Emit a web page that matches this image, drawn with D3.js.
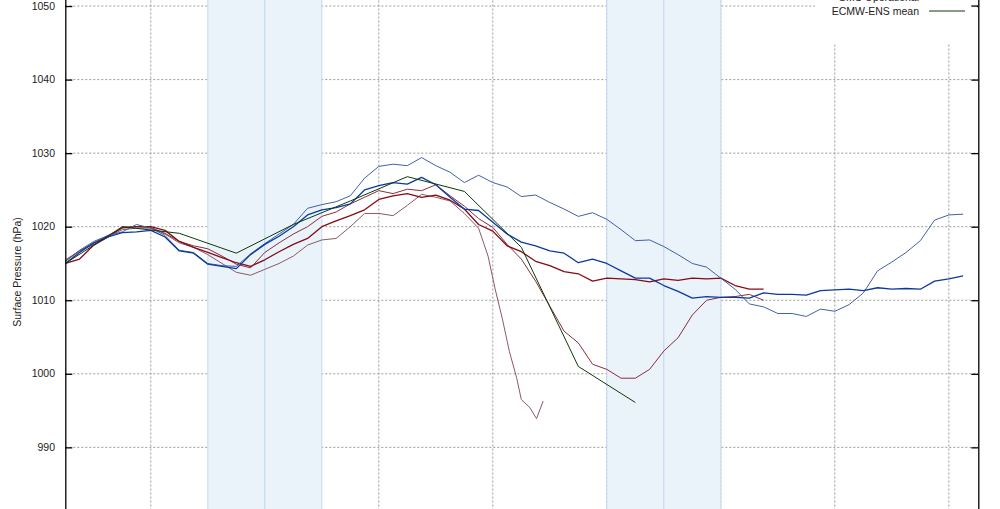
<!DOCTYPE html>
<html>
<head>
<meta charset="utf-8">
<script src="https://cdn.jsdelivr.net/npm/d3@7"></script>
<style>
body { margin: 0; background: #fff; }
text { font-family: "Liberation Sans", Arial, sans-serif; }
</style>
</head>
<body>
<div id="chart-area"></div>
<script>
/*
*    surface pressure forecasts
*/

// [forecast hour, hPa]
var lightBlue = [[0,1015.3],[3,1016.8],[6,1018.0],[9,1018.8],[12,1019.3],[15,1020.3],[18,1019.8],[21,1018.8],[24,1016.8],[27,1016.5],[30,1015.0],[33,1014.7],[36,1014.6],[39,1016.3],[42,1017.7],[45,1019.0],[48,1020.3],[51,1022.5],[54,1023.0],[57,1023.4],[60,1024.2],[63,1026.6],[66,1028.2],[69,1028.5],[72,1028.3],[75,1029.4],[78,1028.3],[81,1027.4],[84,1026.0],[87,1027.0],[90,1026.0],[93,1025.4],[96,1024.1],[99,1024.3],[102,1023.3],[105,1022.4],[108,1021.4],[111,1021.9],[114,1021.0],[117,1019.6],[120,1018.1],[123,1018.2],[126,1017.3],[129,1016.2],[132,1015.0],[135,1014.5],[138,1013.0],[141,1011.5],[144,1009.5],[147,1009.1],[150,1008.2],[153,1008.2],[156,1007.8],[159,1008.8],[162,1008.5],[165,1009.4],[168,1011.0],[171,1014.0],[174,1015.2],[177,1016.5],[180,1018.1],[183,1020.9],[186,1021.6],[189,1021.7]];

var darkBlue = [[0,1015.0],[3,1016.5],[6,1017.8],[9,1018.6],[12,1019.2],[15,1019.3],[18,1019.5],[21,1018.6],[24,1016.7],[27,1016.4],[30,1014.9],[33,1014.6],[36,1014.3],[39,1016.2],[42,1017.6],[45,1018.7],[48,1020.0],[51,1021.6],[54,1022.3],[57,1022.6],[60,1023.1],[63,1025.0],[66,1025.6],[69,1026.0],[72,1025.8],[75,1026.7],[78,1025.7],[81,1024.0],[84,1022.4],[87,1022.2],[90,1020.6],[93,1019.0],[96,1017.9],[99,1017.4],[102,1016.7],[105,1016.4],[108,1015.1],[111,1015.6],[114,1015.0],[117,1014.0],[120,1013.0],[123,1013.0],[126,1012.0],[129,1011.2],[132,1010.3],[135,1010.5],[138,1010.4],[141,1010.4],[144,1010.3],[147,1011.0],[150,1010.8],[153,1010.8],[156,1010.7],[159,1011.3],[162,1011.4],[165,1011.5],[168,1011.3],[171,1011.7],[174,1011.5],[177,1011.6],[180,1011.5],[183,1012.6],[186,1012.9],[189,1013.3]];

var gmsOper = [[0,1015.0],[3,1015.6],[6,1017.5],[9,1018.6],[12,1019.9],[15,1020.0],[18,1020.0],[21,1019.5],[24,1018.0],[27,1017.2],[30,1016.5],[33,1015.8],[36,1015.1],[39,1014.6],[42,1015.5],[45,1016.6],[48,1017.6],[51,1018.4],[54,1020.0],[57,1020.8],[60,1021.5],[63,1022.3],[66,1023.7],[69,1024.2],[72,1024.5],[75,1024.0],[78,1024.3],[81,1023.6],[84,1022.4],[87,1020.3],[90,1019.4],[93,1017.4],[96,1016.6],[99,1015.3],[102,1014.7],[105,1013.9],[108,1013.6],[111,1012.6],[114,1013.0],[117,1012.9],[120,1012.8],[123,1012.5],[126,1012.9],[129,1012.7],[132,1013.0],[135,1012.9],[138,1013.0],[141,1012.0],[144,1011.5],[147,1011.5]];

var rosyRed = [[0,1015.3],[3,1016.7],[6,1017.8],[9,1018.8],[12,1019.8],[15,1020.0],[18,1019.9],[21,1019.1],[24,1018.0],[27,1017.4],[30,1017.0],[33,1016.0],[36,1014.9],[39,1014.4],[42,1016.5],[45,1017.8],[48,1019.0],[51,1020.0],[54,1021.4],[57,1022.0],[60,1023.1],[63,1024.0],[66,1024.9],[69,1024.5],[72,1025.1],[75,1024.9],[78,1025.7],[81,1024.2],[84,1022.8],[87,1021.1],[90,1019.9],[93,1017.6],[96,1015.6],[99,1012.6],[102,1009.2],[105,1005.8],[108,1004.2],[111,1001.3],[114,1000.6],[117,999.4],[120,999.4],[123,1000.6],[126,1003.1],[129,1004.9],[132,1008.0],[135,1010.0],[138,1010.4],[141,1010.5],[144,1010.8],[147,1010.0]];

var mauve = [[0,1015.5],[3,1016.7],[6,1017.6],[9,1018.6],[12,1019.6],[15,1019.8],[18,1019.8],[21,1019.0],[24,1017.8],[27,1017.2],[30,1016.2],[33,1015.0],[36,1013.8],[39,1013.4],[42,1014.2],[45,1015.0],[48,1016.0],[51,1017.5],[54,1018.2],[57,1018.4],[60,1020.0],[63,1021.8],[66,1021.8],[69,1021.5],[72,1022.9],[75,1024.4],[78,1024.0],[81,1023.5],[84,1021.8],[87,1019.8],[89,1016.0],[90.5,1011.5],[92,1007.5],[93.5,1003.0],[95,999.5],[96,996.5],[97.8,995.4],[99.2,993.9],[100.6,996.3]];

var ensMean = [[0,1015.0],[12,1020.0],[24,1019.1],[36,1016.4],[48,1020.3],[60,1023.5],[72,1026.8],[84,1024.8],[96,1017.2],[108,1001.0],[120,996.1]];

var yTicks = [980, 990, 1000, 1010, 1020, 1030, 1040, 1050, 1060];
var yLabels = [990, 1000, 1010, 1020, 1030, 1040, 1050];
var dayLines = [18, 42, 66, 90, 114, 138, 162, 186];
var nightBands = [[30, 42], [42, 54], [114, 126], [126, 138]];
var legendNames = ["GMS Operational", "ECMW-ENS mean"];

var width = 1000;
var height = 509;

var svg = d3.select("#chart-area")
    .append("svg")
    .attr("width", width)
    .attr("height", height);

var x = d3.scaleLinear()
    .domain([0, 192.2])
    .range([65.3, 978.3]);

var y = d3.scaleLinear()
    .domain([980, 1060])
    .range([520.9, -67.5]);

var plotTop = y(1060), plotBottom = y(980);

// grid
svg.append("g")
    .selectAll("line")
    .data(yTicks)
    .enter().append("line")
    .attr("x1", x(0)).attr("x2", x(192.2))
    .attr("y1", (d) => y(d)).attr("y2", (d) => y(d))
    .attr("stroke", "#9a9a9a")
    .attr("stroke-dasharray", "2,2");

svg.append("g")
    .selectAll("line")
    .data(dayLines)
    .enter().append("line")
    .attr("x1", (d) => x(d)).attr("x2", (d) => x(d))
    .attr("y1", plotTop).attr("y2", plotBottom)
    .attr("stroke", "#9a9a9a")
    .attr("stroke-dasharray", "2,2");

// night bands
svg.append("g")
    .selectAll("rect")
    .data(nightBands)
    .enter().append("rect")
    .attr("x", (d) => x(d[0]))
    .attr("width", (d) => x(d[1]) - x(d[0]))
    .attr("y", plotTop)
    .attr("height", plotBottom - plotTop)
    .attr("fill", "#eaf2fa")
    .attr("stroke", "#c4dbef")
    .attr("stroke-width", 1);

var line = d3.line()
    .x((d) => x(d[0]))
    .y((d) => y(d[1]));

var series = [
    {data: mauve, color: "#8c5a64", w: 1},
    {data: rosyRed, color: "#8a2e40", w: 1},
    {data: gmsOper, color: "#850b16", w: 1.3},
    {data: lightBlue, color: "#4061a8", w: 1},
    {data: darkBlue, color: "#0a3a9e", w: 1.3},
    {data: ensMean, color: "#0b3a0b", w: 1}
];

svg.append("g")
    .selectAll("path")
    .data(series)
    .enter().append("path")
    .attr("d", (d) => line(d.data))
    .attr("fill", "none")
    .attr("stroke", (d) => d.color)
    .attr("stroke-width", (d) => d.w)
    .attr("stroke-linejoin", "round");

// axes
var leftAxis = d3.axisRight(y).tickValues(yTicks).tickSize(7).tickFormat("");
svg.append("g")
    .attr("transform", "translate(" + x(0) + ",0)")
    .call(leftAxis)
    .call((g) => g.select(".domain").attr("stroke", "#000").attr("stroke-width", 1.3));

var rightAxis = d3.axisLeft(y).tickValues(yTicks).tickSize(7).tickFormat("");
svg.append("g")
    .attr("transform", "translate(" + x(192.2) + ",0)")
    .call(rightAxis)
    .call((g) => g.select(".domain").attr("stroke", "#000").attr("stroke-width", 1.3));

svg.selectAll(".tick line").attr("stroke", "#000").attr("stroke-width", 1.3);

svg.append("g")
    .selectAll("text")
    .data(yLabels)
    .enter().append("text")
    .attr("x", 55)
    .attr("y", (d) => y(d))
    .attr("dy", "0.35em")
    .attr("text-anchor", "end")
    .attr("font-size", "10.5px")
    .attr("fill", "#222")
    .text((d) => d);

svg.append("text")
    .attr("transform", "translate(21," + 272 + ") rotate(-90)")
    .attr("text-anchor", "middle")
    .attr("font-size", "10.5px")
    .attr("fill", "#222")
    .text("Surface Pressure (hPa)");

// legend (top right, partly above the view)
var legend = svg.append("g");
legend.append("rect")
    .attr("x", 815).attr("y", -30)
    .attr("width", 162).attr("height", 74)
    .attr("fill", "#fff");

var legendColors = ["#850b16", "#0b3a0b"];
legendNames.forEach((name, i) => {
    var by = 1 + i * 14;
    legend.append("text")
        .attr("x", 919).attr("y", by)
        .attr("text-anchor", "end")
        .attr("font-size", "10.5px")
        .attr("fill", "#222")
        .text(name);
    legend.append("line")
        .attr("x1", 929).attr("x2", 965)
        .attr("y1", by - 4).attr("y2", by - 4)
        .attr("stroke", legendColors[i])
        .attr("stroke-width", 1);
});

// right axis tick at 1050 sits over the legend box
svg.append("line")
    .attr("x1", x(192.2) - 7).attr("x2", x(192.2))
    .attr("y1", y(1050)).attr("y2", y(1050))
    .attr("stroke", "#000").attr("stroke-width", 1.3);
</script>
</body>
</html>
